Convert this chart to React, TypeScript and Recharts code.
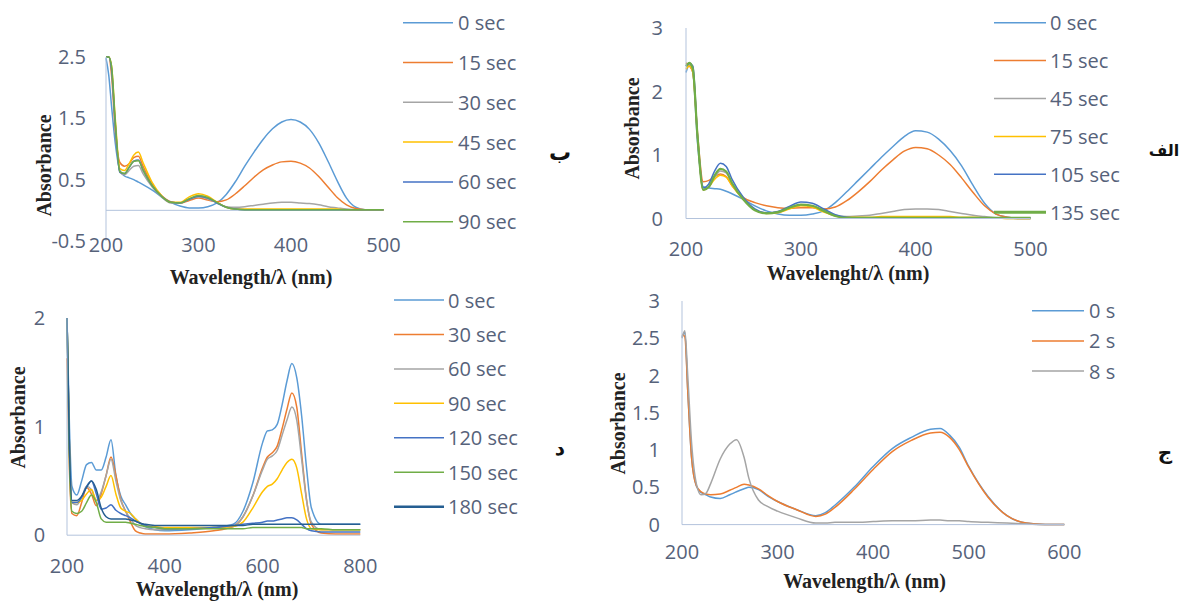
import React from 'react'
import { LineChart, Line, XAxis, YAxis, ReferenceLine } from 'recharts'

// ---- panel الف (top right): wavelength samples and absorbance per time
const wlAlef = [200, 203, 206, 210, 215, 220, 225, 230, 235, 240, 250, 260, 270, 280, 290, 300, 310, 320, 330, 340, 350, 360, 370, 380, 390, 400, 410, 420, 430, 440, 450, 460, 470, 480, 490, 500]
const alefNames = ['0 sec', '15 sec', '45 sec', '75 sec', '105 sec', '135 sec']
const alef0 = [2.3, 2.42, 2.3, 1.2, 0.5, 0.48, 0.47, 0.46, 0.43, 0.39, 0.3, 0.2, 0.12, 0.07, 0.05, 0.05, 0.07, 0.12, 0.25, 0.42, 0.6, 0.78, 0.96, 1.13, 1.29, 1.38, 1.36, 1.25, 1.07, 0.83, 0.52, 0.24, 0.07, 0.02, 0, 0]
const alef15 = [2.45, 2.4, 2.3, 1.35, 0.58, 0.6, 0.66, 0.7, 0.66, 0.52, 0.33, 0.25, 0.2, 0.17, 0.16, 0.17, 0.17, 0.15, 0.18, 0.28, 0.42, 0.58, 0.76, 0.92, 1.06, 1.12, 1.1, 1.0, 0.85, 0.64, 0.41, 0.2, 0.07, 0.02, 0, 0]
const alef45 = [2.4, 2.4, 2.35, 1.3, 0.45, 0.5, 0.65, 0.75, 0.72, 0.55, 0.3, 0.14, 0.09, 0.1, 0.16, 0.21, 0.19, 0.12, 0.05, 0.03, 0.04, 0.05, 0.08, 0.11, 0.14, 0.15, 0.15, 0.14, 0.11, 0.08, 0.05, 0.03, 0.01, 0, 0, 0]
const alef75 = [2.35, 2.4, 2.3, 1.3, 0.45, 0.5, 0.62, 0.68, 0.65, 0.52, 0.3, 0.14, 0.08, 0.09, 0.15, 0.2, 0.18, 0.1, 0.04, 0.02, 0.02, 0.02, 0.03, 0.03, 0.03, 0.03, 0.03, 0.03, 0.03, 0.02, 0.02, 0.01, 0.01, 0, 0, 0]
const alef105 = [2.4, 2.45, 2.4, 1.3, 0.48, 0.55, 0.75, 0.87, 0.82, 0.62, 0.33, 0.15, 0.09, 0.11, 0.19, 0.26, 0.24, 0.15, 0.06, 0.02, 0.01, 0.01, 0.01, 0.01, 0.01, 0.01, 0.01, 0.01, 0.01, 0.01, 0.01, 0.01, 0.01, 0.01, 0.01, 0.01]
const alef135 = [2.4, 2.45, 2.35, 1.3, 0.45, 0.5, 0.68, 0.78, 0.74, 0.56, 0.3, 0.13, 0.08, 0.1, 0.17, 0.22, 0.2, 0.12, 0.04, 0.01, 0.01, 0.01, 0.01, 0.01, 0.01, 0.01, 0.01, 0.01, 0.01, 0.01, 0.01, 0.01, 0.01, 0.01, 0.01, 0.01]

// ---- panel ب (top left)
const wlBe = [200, 203, 206, 210, 215, 220, 225, 230, 235, 240, 250, 260, 270, 280, 290, 300, 310, 320, 330, 340, 350, 360, 370, 380, 390, 400, 410, 420, 430, 440, 450, 460, 470, 480, 490, 500]
const beNames = ['0 sec', '15 sec', '30 sec', '45 sec', '60 sec', '90 sec']
const be0 = [2.48, 2.2, 1.7, 1.1, 0.65, 0.56, 0.53, 0.5, 0.46, 0.42, 0.33, 0.22, 0.13, 0.07, 0.04, 0.04, 0.06, 0.12, 0.26, 0.47, 0.72, 0.95, 1.16, 1.33, 1.44, 1.48, 1.44, 1.32, 1.1, 0.8, 0.48, 0.2, 0.05, 0.01, 0.01, 0.01]
const be15 = [2.5, 2.5, 2.2, 1.3, 0.78, 0.72, 0.76, 0.86, 0.88, 0.72, 0.42, 0.24, 0.14, 0.12, 0.16, 0.2, 0.17, 0.14, 0.17, 0.27, 0.4, 0.54, 0.66, 0.74, 0.79, 0.8, 0.77, 0.69, 0.55, 0.38, 0.21, 0.09, 0.03, 0.01, 0, 0]
const be30 = [2.5, 2.5, 2.3, 1.4, 0.62, 0.58, 0.65, 0.72, 0.73, 0.6, 0.38, 0.22, 0.12, 0.12, 0.18, 0.22, 0.19, 0.12, 0.06, 0.05, 0.06, 0.08, 0.1, 0.12, 0.13, 0.13, 0.12, 0.11, 0.09, 0.06, 0.04, 0.02, 0.01, 0, 0, 0]
const be45 = [2.5, 2.5, 2.35, 1.5, 0.68, 0.65, 0.76, 0.9, 0.95, 0.78, 0.45, 0.24, 0.13, 0.13, 0.22, 0.27, 0.23, 0.13, 0.05, 0.02, 0.02, 0.02, 0.02, 0.02, 0.02, 0.02, 0.02, 0.02, 0.02, 0.02, 0.02, 0.01, 0.01, 0.01, 0.01, 0.01]
const be60 = [2.5, 2.5, 2.3, 1.4, 0.62, 0.6, 0.7, 0.8, 0.82, 0.66, 0.4, 0.23, 0.13, 0.12, 0.18, 0.23, 0.2, 0.12, 0.05, 0.02, 0.01, 0.01, 0.01, 0.01, 0.01, 0.01, 0.01, 0.01, 0.01, 0.01, 0.01, 0.01, 0.01, 0.01, 0.01, 0.01]
const be90 = [2.5, 2.5, 2.35, 1.45, 0.63, 0.6, 0.7, 0.8, 0.81, 0.66, 0.4, 0.23, 0.13, 0.12, 0.19, 0.24, 0.21, 0.13, 0.05, 0.02, 0.01, 0.01, 0.01, 0.01, 0.01, 0.01, 0.01, 0.01, 0.01, 0.01, 0.01, 0.01, 0.01, 0.01, 0.01, 0.01]

// ---- panel د (bottom left)
const wlDal = [200, 205, 210, 220, 230, 240, 250, 260, 270, 280, 290, 300, 310, 320, 330, 340, 350, 360, 380, 400, 450, 500, 540, 560, 580, 600, 610, 620, 630, 640, 650, 660, 670, 680, 690, 700, 720, 750, 800]
const dalNames = ['0 sec', '30 sec', '60 sec', '90 sec', '120 sec', '150 sec', '180 sec']
const dal0 = [2.0, 1.0, 0.45, 0.37, 0.5, 0.65, 0.67, 0.6, 0.6, 0.72, 0.88, 0.55, 0.36, 0.28, 0.2, 0.15, 0.11, 0.08, 0.05, 0.04, 0.05, 0.07, 0.1, 0.22, 0.48, 0.85, 0.96, 0.97, 1.02, 1.2, 1.42, 1.58, 1.45, 1.1, 0.62, 0.25, 0.1, 0.1, 0.1]
const dal30 = [1.63, 0.6, 0.2, 0.18, 0.3, 0.44, 0.38, 0.27, 0.38, 0.55, 0.72, 0.55, 0.33, 0.22, 0.12, 0.04, 0.02, 0.01, 0.01, 0.01, 0.02, 0.04, 0.08, 0.17, 0.36, 0.62, 0.72, 0.76, 0.82, 0.98, 1.16, 1.31, 1.18, 0.75, 0.33, 0.1, 0.02, 0.01, 0.01]
const dal60 = [2.0, 0.8, 0.3, 0.28, 0.35, 0.45, 0.42, 0.32, 0.4, 0.55, 0.7, 0.5, 0.32, 0.22, 0.15, 0.09, 0.07, 0.06, 0.05, 0.05, 0.06, 0.07, 0.08, 0.17, 0.36, 0.6, 0.7, 0.73, 0.78, 0.92, 1.06, 1.18, 1.06, 0.7, 0.32, 0.12, 0.05, 0.05, 0.05]
const dal90 = [2.0, 0.8, 0.3, 0.3, 0.32, 0.38, 0.42, 0.32, 0.35, 0.45, 0.55, 0.38, 0.25, 0.22, 0.2, 0.15, 0.11, 0.09, 0.08, 0.07, 0.07, 0.07, 0.08, 0.12, 0.25, 0.4, 0.45, 0.47, 0.52, 0.6, 0.67, 0.7, 0.62, 0.38, 0.15, 0.06, 0.05, 0.05, 0.05]
const dal120 = [2.0, 0.8, 0.3, 0.3, 0.35, 0.45, 0.5, 0.38, 0.24, 0.25, 0.28, 0.23, 0.2, 0.18, 0.16, 0.13, 0.11, 0.09, 0.07, 0.06, 0.06, 0.07, 0.09, 0.1, 0.11, 0.12, 0.13, 0.13, 0.14, 0.15, 0.16, 0.16, 0.14, 0.1, 0.06, 0.04, 0.03, 0.03, 0.03]
const dal150 = [2.0, 0.7, 0.22, 0.2, 0.22, 0.3, 0.37, 0.3, 0.15, 0.12, 0.12, 0.12, 0.12, 0.12, 0.11, 0.1, 0.09, 0.08, 0.07, 0.06, 0.06, 0.06, 0.06, 0.06, 0.07, 0.07, 0.07, 0.07, 0.07, 0.07, 0.07, 0.07, 0.07, 0.07, 0.06, 0.06, 0.06, 0.05, 0.05]
const dal180 = [2.0, 0.8, 0.32, 0.32, 0.36, 0.44, 0.5, 0.42, 0.25, 0.17, 0.15, 0.15, 0.15, 0.15, 0.14, 0.13, 0.11, 0.1, 0.09, 0.09, 0.09, 0.09, 0.09, 0.09, 0.1, 0.1, 0.1, 0.1, 0.1, 0.1, 0.1, 0.1, 0.1, 0.1, 0.1, 0.1, 0.1, 0.1, 0.1]

// ---- panel ج (bottom right)
const wlJim = [200, 203, 206, 210, 215, 220, 225, 230, 240, 250, 257, 265, 270, 280, 290, 300, 320, 340, 350, 360, 380, 400, 420, 440, 460, 470, 480, 490, 500, 520, 540, 560, 580, 600]
const jimNames = ['0 s', '2 s', '8 s']
const jim0 = [2.52, 2.58, 1.8, 0.9, 0.52, 0.43, 0.4, 0.37, 0.35, 0.4, 0.44, 0.48, 0.5, 0.47, 0.38, 0.31, 0.2, 0.12, 0.16, 0.26, 0.5, 0.78, 1.02, 1.17, 1.28, 1.29, 1.2, 1.04, 0.78, 0.38, 0.12, 0.02, 0, 0]
const jim2 = [2.55, 2.52, 1.8, 0.9, 0.52, 0.44, 0.41, 0.4, 0.41, 0.46, 0.5, 0.54, 0.53, 0.48, 0.39, 0.31, 0.2, 0.11, 0.14, 0.23, 0.47, 0.74, 0.98, 1.13, 1.23, 1.24, 1.17, 1.01, 0.77, 0.37, 0.12, 0.02, 0, 0]
const jim8 = [2.5, 2.6, 2.0, 1.1, 0.55, 0.4, 0.42, 0.55, 0.88, 1.08, 1.14, 0.9, 0.62, 0.33, 0.24, 0.18, 0.09, 0.02, 0.02, 0.03, 0.03, 0.04, 0.05, 0.05, 0.06, 0.06, 0.05, 0.05, 0.04, 0.03, 0.02, 0.01, 0, 0]

// excel default palette
const BLUE = '#5b9bd5'
const ORANGE = '#ed7d31'
const GRAY = '#a5a5a5'
const GOLD = '#ffc000'
const DBLUE = '#4472c4'
const GREEN = '#70ad47'
const NAVY = '#255e91'

const AXIS = '#b3c3dc'
const TXT = '#56627a'
const SANS = '"Open Sans", sans-serif'
const SERIF = '"Liberation Serif", "Times New Roman", serif'

type Series = { name: string; values: number[]; color: string; width: number; legendWidth: number }

const mk = (name: string, values: number[], color: string, width = 1.5, legendWidth = 1.5): Series => ({ name, values, color, width, legendWidth })

const alefSeries = [
  mk(alefNames[0], alef0, BLUE),
  mk(alefNames[1], alef15, ORANGE),
  mk(alefNames[2], alef45, GRAY),
  mk(alefNames[3], alef75, GOLD),
  mk(alefNames[4], alef105, DBLUE),
  mk(alefNames[5], alef135, GREEN, 2.2, 3),
]
const beSeries = [
  mk(beNames[0], be0, BLUE),
  mk(beNames[1], be15, ORANGE),
  mk(beNames[2], be30, GRAY),
  mk(beNames[3], be45, GOLD),
  mk(beNames[4], be60, DBLUE),
  mk(beNames[5], be90, GREEN),
]
const dalSeries = [
  mk(dalNames[0], dal0, BLUE),
  mk(dalNames[1], dal30, ORANGE),
  mk(dalNames[2], dal60, GRAY),
  mk(dalNames[3], dal90, GOLD),
  mk(dalNames[4], dal120, DBLUE),
  mk(dalNames[5], dal150, GREEN),
  mk(dalNames[6], dal180, NAVY, 1.5, 2.5),
]
const jimSeries = [
  mk(jimNames[0], jim0, BLUE),
  mk(jimNames[1], jim2, ORANGE),
  mk(jimNames[2], jim8, GRAY),
]

function toRows(wl: number[], series: Series[]) {
  return wl.map((w, i) => {
    const row: Record<string, number> = { w }
    series.forEach((s, j) => {
      row['s' + j] = s.values[i]
    })
    return row
  })
}

type PanelProps = {
  left: number
  top: number
  plotW: number
  plotH: number
  yWidth: number
  wl: number[]
  series: Series[]
  xDomain: [number, number]
  xTicks: number[]
  yDomain: [number, number]
  yTicks: number[]
  yTickMargin: number
  xTickMargin: number
  zeroLine?: boolean
}

const M_TOP = 15
const M_RIGHT = 30
const X_H = 60

function Panel(p: PanelProps) {
  const data = toRows(p.wl, p.series)
  const tickStyle = { fill: TXT, fontSize: 20, fontFamily: SANS }
  return (
    <div style={{ position: 'absolute', left: p.left - p.yWidth, top: p.top - M_TOP }}>
      <LineChart
        width={p.yWidth + p.plotW + M_RIGHT}
        height={M_TOP + p.plotH + X_H}
        data={data}
        margin={{ top: M_TOP, right: M_RIGHT, bottom: 0, left: 0 }}
      >
        <XAxis
          type="number"
          dataKey="w"
          domain={p.xDomain}
          ticks={p.xTicks}
          interval={0}
          height={X_H}
          tickSize={0}
          tickMargin={p.xTickMargin}
          axisLine={p.zeroLine ? false : { stroke: AXIS }}
          tickLine={false}
          tick={tickStyle}
        />
        <YAxis
          type="number"
          domain={p.yDomain}
          ticks={p.yTicks}
          interval={0}
          width={p.yWidth}
          tickSize={0}
          tickMargin={p.yTickMargin}
          axisLine={{ stroke: AXIS }}
          tickLine={false}
          tick={tickStyle}
        />
        {p.zeroLine && <ReferenceLine y={0} stroke={AXIS} />}
        {p.series.map((s, j) => (
          <Line
            key={s.name}
            dataKey={'s' + j}
            name={s.name}
            type="monotone"
            stroke={s.color}
            strokeWidth={s.width}
            dot={false}
            isAnimationActive={false}
          />
        ))}
      </LineChart>
    </div>
  )
}

function LegendBlock({ series, x1, x2, tx, y0, dy }: { series: Series[]; x1: number; x2: number; tx: number; y0: number; dy: number }) {
  return (
    <g>
      {series.map((s, i) => (
        <g key={s.name}>
          <line x1={x1} x2={x2} y1={y0 + i * dy} y2={y0 + i * dy} stroke={s.color} strokeWidth={s.legendWidth} />
          <text x={tx} y={y0 + i * dy} dominantBaseline="central" fill={TXT} fontSize={20} fontFamily={SANS}>
            {s.name}
          </text>
        </g>
      ))}
    </g>
  )
}

function XTitle({ x, y, text }: { x: number; y: number; text: string }) {
  return (
    <text x={x} y={y} textAnchor="middle" dominantBaseline="central" fontFamily={SERIF} fontWeight="bold" fontSize={20} fill="#222">
      {text}
    </text>
  )
}

function YTitle({ x, y }: { x: number; y: number }) {
  return (
    <text transform={`translate(${x},${y}) rotate(-90)`} textAnchor="middle" dominantBaseline="central" fontFamily={SERIF} fontWeight="bold" fontSize={20} fill="#222">
      Absorbance
    </text>
  )
}

function Tag({ x, y, text, size }: { x: number; y: number; text: string; size: number }) {
  return (
    <text x={x} y={y} textAnchor="middle" dominantBaseline="central" fontFamily='"DejaVu Sans", sans-serif' fontWeight="bold" fontSize={size} fill="#111">
      {text}
    </text>
  )
}

export default function App() {
  return (
    <div style={{ position: 'absolute', left: 0, top: 0, width: 1184, height: 602, background: '#fff', overflow: 'hidden' }}>
      <Panel
        left={105.5} top={57} plotW={277.5} plotH={184} yWidth={100}
        wl={wlBe} series={beSeries}
        xDomain={[200, 500]} xTicks={[200, 300, 400, 500]}
        yDomain={[-0.5, 2.5]} yTicks={[-0.5, 0.5, 1.5, 2.5]}
        yTickMargin={20} xTickMargin={-3} zeroLine
      />
      <Panel
        left={685.5} top={28} plotW={344.5} plotH={190.5} yWidth={60}
        wl={wlAlef} series={alefSeries}
        xDomain={[200, 500]} xTicks={[200, 300, 400, 500]}
        yDomain={[0, 3]} yTicks={[0, 1, 2, 3]}
        yTickMargin={23} xTickMargin={23}
      />
      <Panel
        left={66.7} top={318.3} plotW={293.3} plotH={217.2} yWidth={60}
        wl={wlDal} series={dalSeries}
        xDomain={[200, 800]} xTicks={[200, 400, 600, 800]}
        yDomain={[0, 2]} yTicks={[0, 1, 2]}
        yTickMargin={21.7} xTickMargin={24}
      />
      <Panel
        left={681.7} top={300.7} plotW={382.3} plotH={223.6} yWidth={60}
        wl={wlJim} series={jimSeries}
        xDomain={[200, 600]} xTicks={[200, 300, 400, 500, 600]}
        yDomain={[0, 3]} yTicks={[0, 0.5, 1, 1.5, 2, 2.5, 3]}
        yTickMargin={22} xTickMargin={20}
      />
      <svg width={1184} height={602} style={{ position: 'absolute', left: 0, top: 0, pointerEvents: 'none' }}>
        <LegendBlock series={beSeries} x1={403} x2={453} tx={458} y0={22.7} dy={39.8} />
        <LegendBlock series={alefSeries} x1={994} x2={1046} tx={1050} y0={22.7} dy={37.9} />
        <LegendBlock series={dalSeries} x1={394} x2={444} tx={448} y0={300} dy={34.45} />
        <LegendBlock series={jimSeries} x1={1032} x2={1084} tx={1089} y0={310.7} dy={30.2} />

        <XTitle x={251} y={277} text="Wavelength/λ (nm)" />
        <XTitle x={848} y={273} text="Wavelenght/λ (nm)" />
        <XTitle x={217} y={589} text="Wavelength/λ (nm)" />
        <XTitle x={864.5} y={581} text="Wavelength/λ (nm)" />
        <YTitle x={43.5} y={165.5} />
        <YTitle x={632} y={128.5} />
        <YTitle x={17.5} y={417.5} />
        <YTitle x={617.5} y={423.5} />

        <Tag x={560} y={152} text="ب" size={22} />
        <Tag x={1164} y={150} text="الف" size={16} />
        <Tag x={560} y={448} text="د" size={20} />
        <Tag x={1165} y={452} text="ج" size={20} />
      </svg>
    </div>
  )
}
